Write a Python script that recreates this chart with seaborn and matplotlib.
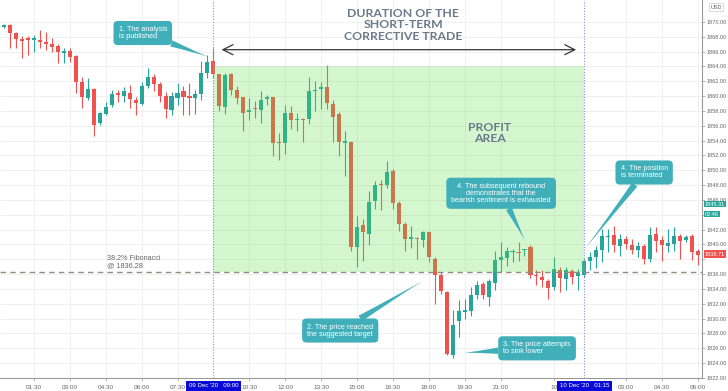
import numpy as np
import pandas as pd
import matplotlib
matplotlib.use("Agg")
import matplotlib.pyplot as plt
import matplotlib.transforms as mtransforms
import seaborn as sns

# 15-minute candles
opens = [1869.32, 1869.59, 1868.47, 1867.70, 1867.79, 1867.61, 1867.61, 1867.25, 1866.98, 1866.80,
         1865.86, 1866.13, 1865.41, 1861.94, 1859.77, 1860.95, 1856.31, 1857.57, 1858.78, 1860.36,
         1860.04, 1860.36, 1859.46, 1858.96, 1861.40, 1862.61, 1861.62, 1860.04, 1858.06, 1859.77,
         1860.68, 1860.00, 1859.68, 1860.27, 1863.06, 1864.73, 1862.93, 1858.55, 1862.97, 1860.87,
         1859.84, 1857.87, 1858.41, 1858.19, 1859.66, 1859.84, 1853.71, 1853.71, 1857.74, 1856.80,
         1856.85, 1856.85, 1860.65, 1860.96, 1861.19, 1858.95, 1857.61, 1853.70, 1853.85, 1839.71,
         1842.62, 1841.41, 1845.88, 1848.20, 1848.03, 1849.91, 1845.57, 1842.75, 1840.69, 1840.87,
         1840.65, 1841.63, 1838.05, 1835.95, 1833.58, 1825.08, 1829.64, 1830.95, 1831.07, 1833.22,
         1834.70, 1832.91, 1834.83, 1837.90, 1838.19, 1839.00, 1839.00, 1839.28, 1839.62, 1835.90,
         1835.68, 1835.06, 1834.25, 1836.58, 1835.28, 1836.40, 1835.73, 1835.82, 1837.83, 1838.28,
         1839.30, 1841.00, 1841.27, 1839.84, 1840.74, 1839.93, 1839.30, 1839.84, 1838.05, 1841.40,
         1840.60, 1839.84, 1840.07, 1841.20, 1840.60, 1841.18, 1839.17]
highs = [1869.70, 1869.70, 1868.60, 1868.15, 1868.15, 1868.24, 1868.92, 1868.69, 1867.79, 1867.07,
         1866.44, 1866.44, 1865.54, 1862.61, 1862.39, 1861.04, 1857.88, 1859.23, 1860.81, 1860.81,
         1861.26, 1861.49, 1859.90, 1861.94, 1863.83, 1862.93, 1861.94, 1860.50, 1860.60, 1861.71,
         1861.40, 1861.71, 1860.81, 1864.77, 1865.54, 1866.44, 1862.97, 1863.11, 1863.10, 1861.32,
         1859.90, 1859.75, 1859.31, 1860.65, 1860.20, 1859.90, 1855.06, 1858.86, 1858.63, 1857.74,
         1857.10, 1862.53, 1862.08, 1861.90, 1864.23, 1859.50, 1857.90, 1855.28, 1853.95, 1843.87,
         1843.42, 1847.23, 1848.57, 1848.66, 1851.25, 1850.22, 1845.88, 1842.97, 1842.53, 1840.96,
         1841.86, 1841.86, 1838.28, 1836.26, 1833.70, 1831.12, 1832.46, 1832.60, 1834.30, 1835.10,
         1834.90, 1835.37, 1839.17, 1840.29, 1839.62, 1839.40, 1840.29, 1839.40, 1839.93, 1836.50,
         1836.49, 1835.37, 1838.28, 1836.93, 1836.93, 1836.70, 1836.70, 1838.05, 1838.95, 1839.84,
         1842.08, 1842.08, 1842.50, 1841.40, 1841.10, 1840.70, 1840.30, 1840.10, 1842.30, 1842.30,
         1841.20, 1842.08, 1842.30, 1841.40, 1841.27, 1841.40, 1839.40]
lows = [1869.20, 1866.44, 1866.44, 1865.09, 1865.54, 1865.99, 1866.44, 1866.22, 1865.99, 1864.41,
        1864.41, 1864.64, 1860.36, 1858.33, 1859.46, 1854.64, 1856.08, 1857.43, 1858.56, 1859.23,
        1859.14, 1858.33, 1857.43, 1858.78, 1861.04, 1860.68, 1859.23, 1856.98, 1857.43, 1858.78,
        1857.43, 1857.43, 1857.52, 1859.46, 1862.39, 1862.39, 1857.96, 1857.52, 1860.20, 1858.95,
        1855.28, 1856.71, 1857.07, 1856.40, 1858.86, 1851.92, 1851.34, 1852.15, 1855.50, 1855.28,
        1853.85, 1856.17, 1857.96, 1858.20, 1858.20, 1853.85, 1851.92, 1849.24, 1839.17, 1836.93,
        1837.83, 1839.98, 1844.76, 1844.63, 1847.67, 1844.76, 1841.86, 1839.17, 1839.53, 1838.05,
        1839.62, 1837.61, 1832.01, 1833.36, 1825.08, 1824.76, 1827.54, 1829.90, 1830.30, 1832.70,
        1832.70, 1831.70, 1833.80, 1836.26, 1837.16, 1837.60, 1837.83, 1838.50, 1835.46, 1834.50,
        1834.25, 1832.68, 1833.80, 1833.58, 1833.80, 1834.70, 1833.80, 1835.60, 1836.50, 1836.80,
        1837.60, 1839.00, 1838.95, 1838.50, 1839.40, 1838.70, 1838.30, 1837.40, 1837.60, 1838.95,
        1837.80, 1838.95, 1839.17, 1838.05, 1840.30, 1837.96, 1837.20]
closes = [1869.59, 1868.47, 1867.70, 1867.43, 1867.61, 1867.79, 1867.25, 1867.07, 1866.58, 1865.99,
          1866.08, 1865.23, 1861.94, 1859.91, 1860.95, 1856.08, 1857.66, 1858.56, 1860.27, 1860.14,
          1860.68, 1859.59, 1859.01, 1861.40, 1862.61, 1861.62, 1860.04, 1858.24, 1859.95, 1860.36,
          1859.86, 1859.80, 1860.27, 1863.06, 1864.64, 1862.93, 1858.63, 1862.80, 1860.78, 1859.75,
          1857.74, 1858.14, 1858.23, 1859.53, 1859.84, 1853.71, 1853.65, 1857.74, 1856.71, 1856.90,
          1856.75, 1860.65, 1860.87, 1861.27, 1859.08, 1857.16, 1853.76, 1853.90, 1839.62, 1842.39,
          1841.63, 1845.75, 1848.03, 1848.03, 1849.82, 1845.53, 1842.75, 1840.69, 1840.96, 1840.69,
          1841.63, 1838.28, 1835.95, 1833.71, 1825.30, 1829.10, 1830.98, 1831.10, 1833.13, 1834.56,
          1833.13, 1835.01, 1837.96, 1838.28, 1839.08, 1839.10, 1838.85, 1839.32, 1835.82, 1835.70,
          1835.23, 1834.16, 1836.71, 1835.46, 1836.58, 1835.60, 1836.13, 1837.78, 1838.37, 1839.30,
          1841.10, 1841.20, 1839.93, 1840.74, 1840.07, 1839.30, 1839.75, 1838.05, 1841.27, 1840.50,
          1839.93, 1840.15, 1841.10, 1840.50, 1841.05, 1839.04, 1838.60]

tick_pos = [5, 11, 17, 23, 29, 41, 47, 53, 59, 65, 71, 77, 83, 92, 104, 110, 116]
tick_labels = ['01:30', '03:00', '04:30', '06:00', '07:30', '10:30', '12:00', '13:30', '15:00',
               '16:30', '18:00', '19:30', '21:00', '10', '03:00', '04:30', '06:00']
price_ticks = list(range(1822, 1872, 2))
hidden_ticks = [1838, 1844]   # sit under the price tags on the scale

fib_level = 1836.28
profit_top = 1864.0
entry_idx = 35      # 09 Dec '20 09:00
exit_idx = 97       # 10 Dec '20 01:15

df = pd.DataFrame({'open': opens, 'high': highs, 'low': lows, 'close': closes})
df['idx'] = np.arange(len(df))
df['up'] = df['close'] >= df['open']

sns.set_theme(style='white')
plt.rcParams['font.family'] = ['Liberation Sans', 'DejaVu Sans']

fig = plt.figure(figsize=(7.28, 3.91), dpi=100)
ax = fig.add_axes([0, 13 / 391, 702 / 728, 378 / 391])

up_col = '#26a69a'
down_col = '#ef5350'
colors = np.where(df['up'], up_col, down_col)

# wicks + bodies
ax.vlines(df['idx'], df['low'], df['high'], colors=colors, lw=0.8, zorder=2)
body_bottom = np.minimum(df['open'], df['close'])
body_h = np.maximum((df['close'] - df['open']).abs(), 0.12)
ax.bar(df['idx'], body_h, bottom=body_bottom, width=0.68, color=colors, lw=0, zorder=3)

# profit area
ax.fill_between([entry_idx, exit_idx], fib_level, profit_top, color='#58e044', alpha=0.25,
                lw=0, zorder=4)

# fibonacci level
ax.axhline(fib_level, color='#8e8e7e', lw=1.0, ls=(0, (4, 3)), zorder=5)
ax.text(17.2, 1837.6, '38.2% Fibonacci\n@ 1836.28', fontsize=5.2, color='#666666',
        ha='left', va='center', linespacing=1.0, zorder=6)

# entry / exit lines
for xi in (entry_idx, exit_idx):
    ax.axvline(xi, color='#8a8ae6', lw=0.8, ls=(0, (1, 1.5)), zorder=5)

# duration arrow + title
ax.annotate('', xy=(96.1, 1866.25), xytext=(35.9, 1866.25),
            arrowprops=dict(arrowstyle='<->,head_length=0.6,head_width=0.3', color='#333333', lw=0.9),
            zorder=6)
ax.text(66.7, 1869.6, 'DURATION OF THE\nSHORT-TERM\nCORRECTIVE TRADE', fontsize=8.8, color='#6a7a8a',
        ha='center', va='center', linespacing=1.02, family='Lato', fontweight='bold', zorder=6)
ax.text(81.2, 1855.0, 'PROFIT\nAREA', fontsize=8.8, color='#6a7a8a', ha='center', va='center',
        linespacing=1.02, family='Lato', fontweight='bold', zorder=6)

# callouts
teal = '#40afb9'
callouts = [
    ('1. The analysis\nis published', (23.2, 1868.5), (34.1, 1865.3), 'left'),
    ('2. The price reached\nthe suggested target', (56.2, 1828.4), (70.0, 1835.1), 'left'),
    ('3. The price attempts\nto sink lower', (89.1, 1826.0), (77.0, 1825.4), 'left'),
    ('4. The subsequent rebound\ndemonstrates that the\nbearish sentiment is exhausted',
     (83.1, 1846.9), (87.1, 1840.5), 'center'),
    ('4. The position\nis terminated', (107.0, 1849.7), (97.1, 1839.4), 'left'),
]
for txt, pos, tip, al in callouts:
    ax.annotate(txt, xy=tip, xytext=pos, fontsize=5.2, color='white', ha='center', va='center',
                multialignment=al, linespacing=1.0,
                bbox=dict(boxstyle='round,pad=0.7,rounding_size=0.6', fc=teal, ec='none'),
                arrowprops=dict(arrowstyle='wedge,tail_width=0.9,shrink_factor=0.4', fc=teal,
                                ec='none', shrinkA=0, shrinkB=0),
                zorder=7)

# axes styling
ax.set_xlim(-0.67, 116.67)
ax.set_ylim(1822.2, 1872.95)
ax.yaxis.tick_right()
ax.set_yticks(price_ticks)
ax.set_yticklabels(['' if v in hidden_ticks else f'{v:.2f}' for v in price_ticks])
ax.set_xticks(tick_pos)
ax.set_xticklabels(tick_labels)
ax.tick_params(axis='y', labelsize=4.0, labelcolor='#666666', length=2, width=0.5,
               color='#999999', pad=1.5, right=True)
ax.tick_params(axis='x', labelsize=4.6, labelcolor='#666666', length=2, width=0.5,
               color='#999999', pad=3, bottom=True)
ax.grid(True, color='#f0f0f0', lw=0.7, zorder=0)
ax.set_axisbelow(True)
for side in ('top', 'left'):
    ax.spines[side].set_visible(False)
for side in ('right', 'bottom'):
    ax.spines[side].set_color('#9a9a9a')
    ax.spines[side].set_linewidth(0.8)

# date boxes on the time axis
trans_x = mtransforms.blended_transform_factory(ax.transData, ax.transAxes)
for xi, lab in ((entry_idx, "09 Dec '20   09:00"), (exit_idx, "10 Dec '20   01:15")):
    ax.text(xi, -0.021, lab, transform=trans_x, fontsize=4.4, color='white', ha='center', va='center',
            bbox=dict(boxstyle='square,pad=0.45', fc='#0a0ad8', ec='none'), clip_on=False, zorder=8)

# price labels on the right scale
trans_y = mtransforms.blended_transform_factory(ax.transAxes, ax.transData)
lab_kw = dict(transform=trans_y, fontsize=4.0, color='white', ha='left', va='center', clip_on=False)
ax.text(1.004, 1845.45, '1845.31', bbox=dict(boxstyle='square,pad=0.15', fc=up_col, ec='none'), **lab_kw)
ax.text(1.004, 1844.1, '02:46', bbox=dict(boxstyle='square,pad=0.15', fc=up_col, ec='none'), **lab_kw)
ax.text(1.004, 1838.71, '1838.71', bbox=dict(boxstyle='square,pad=0.2', fc=down_col, ec='none'), **lab_kw)
ax.text(1.012, 1872.0, 'USD', transform=trans_y, fontsize=4.0, color='#666666', ha='left',
        va='center', bbox=dict(boxstyle='square,pad=0.2', fc='white', ec='#cccccc', lw=0.5),
        clip_on=False)

fig.savefig('out.png', dpi=100)
